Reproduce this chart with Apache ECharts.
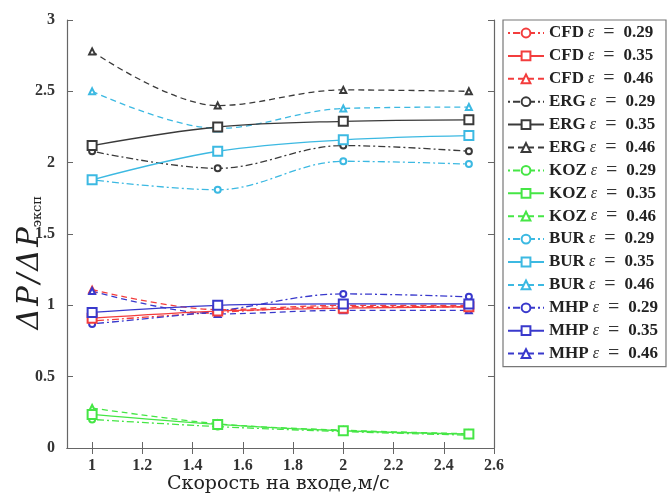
<!DOCTYPE html>
<html><head><meta charset="utf-8">
<script src="https://cdn.jsdelivr.net/npm/echarts@6/dist/echarts.min.js"></script>
<style>html,body{margin:0;padding:0;background:#fff}#c{width:667px;height:498px}</style>
</head><body><div id="c"></div>
<script>
const speeds = [1, 1.5, 2, 2.5];
const xTicks = [1, 1.2, 1.4, 1.6, 1.8, 2, 2.2, 2.4, 2.6];
const yTicks = [0, 0.5, 1, 1.5, 2, 2.5, 3];
const methods = ['CFD', 'ERG', 'KOZ', 'BUR', 'MHP'];
const eps = ['0.29', '0.35', '0.46'];

const CFD_029 = [0.89, 0.95, 0.99, 0.99];
const CFD_035 = [0.91, 0.96, 0.98, 0.99];
const CFD_046 = [1.11, 0.97, 1.00, 1.00];
const ERG_029 = [2.08, 1.96, 2.12, 2.08];
const ERG_035 = [2.12, 2.25, 2.29, 2.30];
const ERG_046 = [2.78, 2.40, 2.51, 2.50];
const KOZ_029 = [0.20, 0.15, 0.115, 0.09];
const KOZ_035 = [0.235, 0.165, 0.121, 0.098];
const KOZ_046 = [0.28, 0.17, 0.125, 0.10];
const BUR_029 = [1.88, 1.81, 2.01, 1.99];
const BUR_035 = [1.88, 2.08, 2.16, 2.19];
const BUR_046 = [2.50, 2.24, 2.38, 2.39];
const MHP_029 = [0.87, 0.96, 1.08, 1.06];
const MHP_035 = [0.95, 1.00, 1.01, 1.01];
const MHP_046 = [1.10, 0.94, 0.965, 0.965];

const seriesValues = {
  CFD: [CFD_029, CFD_035, CFD_046],
  ERG: [ERG_029, ERG_035, ERG_046],
  KOZ: [KOZ_029, KOZ_035, KOZ_046],
  BUR: [BUR_029, BUR_035, BUR_046],
  MHP: [MHP_029, MHP_035, MHP_046]
};
const colors = { CFD: '#f33d3d', ERG: '#3a3a3a', KOZ: '#45e645', BUR: '#3cb9e2', MHP: '#3939cc' };
const lineTypes = [[2, 3, 7, 3], 'solid', [6, 4]];
const symbols = ['emptyCircle', 'emptyRect', 'emptyTriangle'];
const symbolSizes = [6, 9, 6];

const series = [];
methods.forEach(m => {
  eps.forEach((e, i) => {
    series.push({
      name: m + ' ε = ' + e,
      type: 'line',
      smooth: 0.35,
      data: speeds.map((s, k) => [s, seriesValues[m][i][k]]),
      symbol: symbols[i],
      symbolSize: symbolSizes[i],
      lineStyle: { color: colors[m], width: 1.3, type: lineTypes[i] },
      itemStyle: { color: colors[m], borderWidth: 1.2 },
      z: i === 1 ? 3 : 2
    });
  });
});

const serif = 'Liberation Serif';
const chart = echarts.init(document.getElementById('c'));
chart.setOption({
  animation: false,
  grid: { left: 67, right: 173, top: 20, bottom: 50 },
  xAxis: [{
    type: 'value', min: 0.9, max: 2.6,
    axisLine: { lineStyle: { color: '#666', width: 1.2 } },
    axisTick: { inside: true, length: 6, customValues: xTicks, lineStyle: { color: '#666' } },
    axisLabel: { customValues: xTicks, margin: 10, fontFamily: serif, fontSize: 16, fontWeight: 'bold', color: '#333' },
    splitLine: { show: false }
  }, {
    type: 'value', min: 0.9, max: 2.6, position: 'top',
    axisLine: { lineStyle: { color: '#666', width: 1.2 } },
    axisTick: { inside: true, length: 6, customValues: xTicks, lineStyle: { color: '#666' } },
    axisLabel: { show: false }, splitLine: { show: false }
  }],
  yAxis: [{
    type: 'value', min: 0, max: 3, interval: 0.5,
    axisLine: { show: true, lineStyle: { color: '#666', width: 1.2 } },
    axisTick: { show: true, inside: true, length: 6, lineStyle: { color: '#666' } },
    axisLabel: { margin: 12, fontFamily: serif, fontSize: 16, fontWeight: 'bold', color: '#333',
      customValues: yTicks, formatter: v => String(v) },
    splitLine: { show: false }
  }, {
    type: 'value', min: 0, max: 3, interval: 0.5, position: 'right',
    axisLine: { show: true, lineStyle: { color: '#666', width: 1.2 } },
    axisTick: { show: true, inside: true, length: 6, lineStyle: { color: '#666' } },
    axisLabel: { show: false }, splitLine: { show: false }
  }],
  legend: {
    orient: 'vertical', left: 503, top: 20,
    padding: [3, 8, 3, 4],
    itemWidth: 36, itemHeight: 11, itemGap: 2.9,
    borderColor: '#777', borderWidth: 1.2,
    data: series.map(s => s.name),
    formatter: name => {
      const p = name.split(' ε = ');
      return '{b|' + p[0] + '}{e|ε}{q|=}{b|' + p[1] + '}';
    },
    textStyle: {
      rich: {
        b: { fontFamily: serif, fontSize: 17, fontWeight: 'bold', color: '#222', lineHeight: 18 },
        e: { fontFamily: serif, fontSize: 16, fontStyle: 'italic', color: '#333', lineHeight: 18, padding: [0, 0, 0, 4] },
        q: { fontFamily: serif, fontSize: 20, color: '#333', lineHeight: 18, padding: [0, 9, 0, 9] }
      }
    }
  },
  graphic: [{
    type: 'text', left: 16, top: 196,
    rotation: Math.PI / 2,
    style: {
      text: '{m|Δ\u200aP\u200a/\u200aΔ\u200aP}{s|эксп}',
      rich: {
        m: { fontFamily: 'DejaVu Serif', fontSize: 29, fontStyle: 'italic', fill: '#222' },
        s: { fontFamily: 'DejaVu Serif', fontSize: 13, fill: '#222', padding: [15, 0, 0, 0] }
      }
    }
  }, {
    type: 'text', left: 167, top: 475,
    style: { text: 'Скорость на входе,м/с', fontFamily: 'DejaVu Serif', fontSize: 19, fill: '#222' }
  }],
  series: series
});
</script>
</body></html>
